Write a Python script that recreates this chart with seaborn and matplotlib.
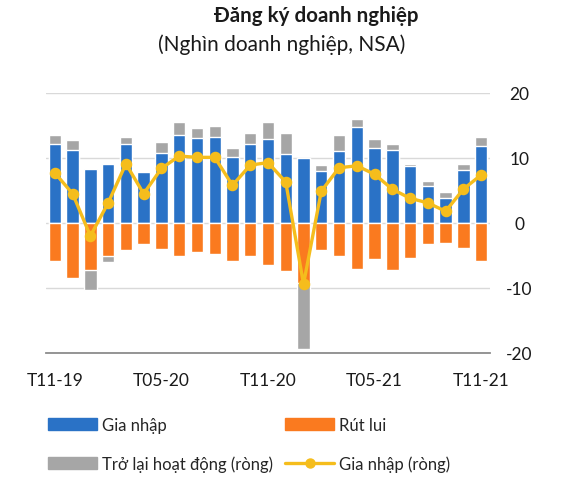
import numpy as np
import seaborn as sns
import matplotlib.pyplot as plt
from matplotlib.patches import Patch
from matplotlib.lines import Line2D

# monthly values, thousand enterprises
months = ['T11-19', 'T12-19',
          'T01-20', 'T02-20', 'T03-20', 'T04-20', 'T05-20', 'T06-20',
          'T07-20', 'T08-20', 'T09-20', 'T10-20', 'T11-20', 'T12-20',
          'T01-21', 'T02-21', 'T03-21', 'T04-21', 'T05-21', 'T06-21',
          'T07-21', 'T08-21', 'T09-21', 'T10-21', 'T11-21']
gia_nhap = [12.2, 11.3, 8.3, 9.1, 12.2, 7.8, 10.7, 13.6, 13.1, 13.3, 10.2, 12.1, 13.0,
            10.6, 10.0, 8.0, 11.1, 14.8, 11.6, 11.2, 8.8, 5.7, 3.9, 8.1, 11.8]
rut_lui = [5.8, 8.4, 7.2, 5.0, 4.2, 3.3, 4.0, 5.1, 4.5, 4.8, 5.8, 5.0, 6.4,
           7.4, 9.2, 4.2, 5.0, 7.1, 5.5, 7.2, 5.4, 3.3, 3.1, 3.8, 5.9]
tro_lai = [1.3, 1.4, -3.1, -1.0, 1.0, 0.0, 1.7, 1.9, 1.5, 1.6, 1.4, 1.7, 2.6,
           3.2, -10.2, 1.0, 2.4, 1.2, 1.4, 1.0, 0.3, 0.8, 0.9, 1.0, 1.4]
gia_nhap_rong = [7.7, 4.5, -2.0, 3.1, 9.1, 4.5, 8.4, 10.3, 10.1, 10.1, 5.8, 8.9, 9.3,
                 6.3, -9.4, 4.9, 8.5, 8.8, 7.5, 5.2, 3.8, 3.1, 1.8, 5.2, 7.4]

BLUE = '#2a72c6'
ORANGE = '#fa7a1f'
GRAY = '#a6a6a6'
YELLOW = '#f5bd1c'

sns.set_theme(style='white')
plt.rcParams['font.family'] = ['Lato', 'DejaVu Sans']
plt.rcParams['axes.unicode_minus'] = False

fig = plt.figure(figsize=(5.77, 4.89), dpi=100)
ax = fig.add_axes([46 / 577, 1 - 354 / 489, 444 / 577, 260 / 489])

g = np.array(gia_nhap)
r = -np.array(rut_lui)
t = np.array(tro_lai)
pos_stack = g + np.clip(t, 0, None)
neg_stack = r + np.clip(t, None, 0)

# gray drawn first, blue / orange layered over it
sns.barplot(x=months, y=pos_stack, color=GRAY, saturation=1, width=0.7, ax=ax)
sns.barplot(x=months, y=neg_stack, color=GRAY, saturation=1, width=0.7, ax=ax)
sns.barplot(x=months, y=g, color=BLUE, saturation=1, width=0.7, ax=ax)
sns.barplot(x=months, y=r, color=ORANGE, saturation=1, width=0.7, ax=ax)
sns.pointplot(x=months, y=gia_nhap_rong, color=YELLOW, markers='o', linestyles='-',
              errorbar=None, markersize=6.5, linewidth=2.4, ax=ax)

ax.set_xlim(-0.5, 24.5)
ax.set_ylim(-20, 20)
ax.set_yticks([-20, -10, 0, 10, 20])
ax.yaxis.tick_right()
ax.yaxis.grid(True, color='#d9d9d9', lw=1)
ax.set_axisbelow(True)
ax.tick_params(axis='y', length=0, pad=21, labelsize=12.5, labelcolor='#1a1a1a')
for lbl in ax.get_yticklabels():
    lbl.set_ha('center')

ax.set_xticks([0, 6, 12, 18, 24])
ax.set_xticklabels([months[i] for i in [0, 6, 12, 18, 24]])
ax.set_xticks([-0.5, 5.5, 11.5, 17.5, 23.5], minor=True)
ax.tick_params(axis='x', which='major', length=0, pad=14, labelsize=12.5, labelcolor='#1a1a1a')
ax.tick_params(axis='x', which='minor', length=5, width=1.3, color='#8c8c8c', direction='out')
ax.set_xlabel('')
ax.set_ylabel('')

for s in ['top', 'left', 'right']:
    ax.spines[s].set_visible(False)
ax.spines['bottom'].set_color('#8c8c8c')
ax.spines['bottom'].set_linewidth(1.3)

fig.text(316 / 577, 1 - 16 / 489, 'Đăng ký doanh nghiệp', ha='center', va='center',
         fontsize=14.8, fontweight='bold', color='#1a1a1a')
fig.text(282 / 577, 1 - 45 / 489, '(Nghìn doanh nghiệp, NSA)', ha='center', va='center',
         fontsize=15, color='#1a1a1a')

leg_kw = dict(loc='upper left', frameon=False, fontsize=12, handlelength=2.95,
              handletextpad=0.3, labelspacing=1.35, borderpad=0, borderaxespad=0)
fig.legend(handles=[Patch(color=BLUE, label='Gia nhập'),
                    Patch(color=GRAY, label='Trở lại hoạt động (ròng)')],
           bbox_to_anchor=(48 / 577, 1 - 418 / 489), **leg_kw)
fig.legend(handles=[Patch(color=ORANGE, label='Rút lui'),
                    Line2D([], [], color=YELLOW, lw=2.4, marker='o', markersize=6.5,
                           label='Gia nhập (ròng)')],
           bbox_to_anchor=(285 / 577, 1 - 418 / 489), **leg_kw)

fig.savefig('out.png', dpi=100)
